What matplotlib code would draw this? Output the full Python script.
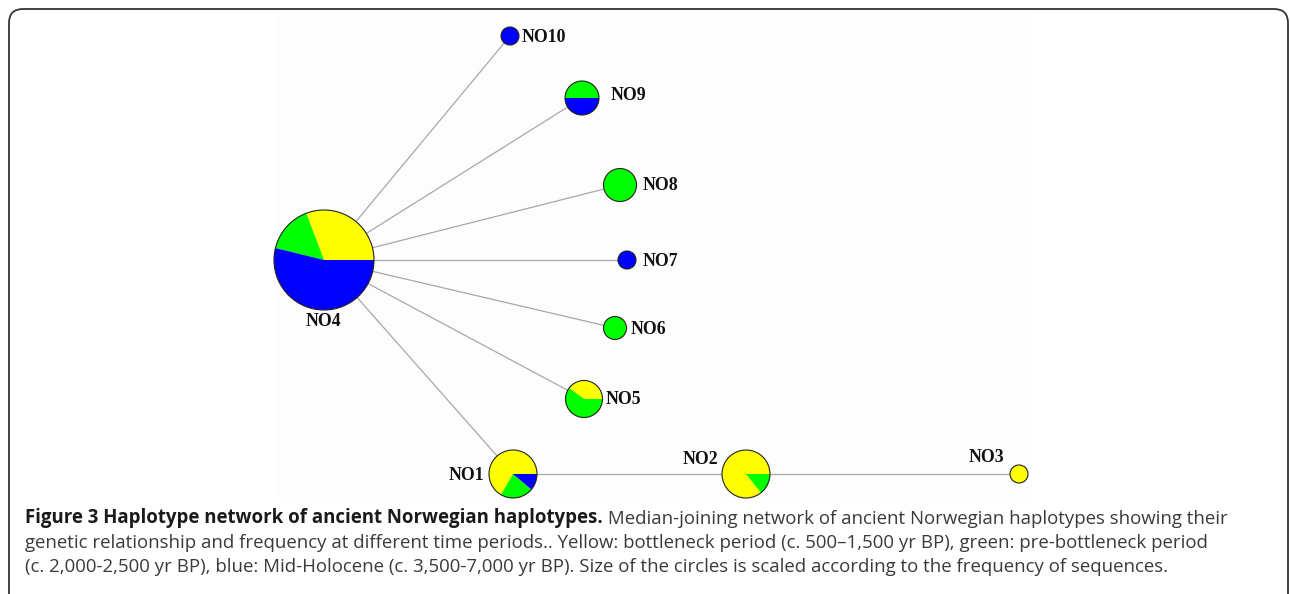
import matplotlib.pyplot as plt
from matplotlib.patches import Circle, FancyBboxPatch, Rectangle

# haplotype nodes: sequence counts per period (yellow, green, blue)
names = ['NO1', 'NO2', 'NO3', 'NO4', 'NO5', 'NO6', 'NO7', 'NO8', 'NO9', 'NO10']
yellow = [6, 6, 1, 4, 2, 0, 0, 0, 0, 0]
green = [2, 1, 0, 2, 3, 1, 0, 1, 1, 0]
blue = [1, 0, 0, 7, 0, 0, 1, 0, 1, 1]
links = [('NO4', 'NO10'), ('NO4', 'NO9'), ('NO4', 'NO8'), ('NO4', 'NO7'),
         ('NO4', 'NO6'), ('NO4', 'NO5'), ('NO4', 'NO1'),
         ('NO1', 'NO2'), ('NO2', 'NO3')]

# layout (pixels from top-left)
pos = {'NO1': (513, 474), 'NO2': (746, 474), 'NO3': (1019, 474),
       'NO4': (324, 260), 'NO5': (584, 399), 'NO6': (615, 328),
       'NO7': (627, 260), 'NO8': (620, 185), 'NO9': (582, 98),
       'NO10': (510, 36)}
radius = {'NO1': 24, 'NO2': 24, 'NO3': 9, 'NO4': 50, 'NO5': 18.5,
          'NO6': 11.5, 'NO7': 9, 'NO8': 16.5, 'NO9': 17, 'NO10': 9}
label_pos = {'NO1': (466, 475, 'center'), 'NO2': (700, 459, 'center'),
             'NO3': (986, 458, 'center'), 'NO4': (323, 322, 'center'),
             'NO5': (606, 400, 'left'), 'NO6': (631, 329, 'left'),
             'NO7': (643, 261, 'left'), 'NO8': (643, 186, 'left'),
             'NO9': (611, 95, 'left'), 'NO10': (522, 37, 'left')}
colors = ['#ffff00', '#00ff00', '#0000ff']

W, H = 1290, 594
fig = plt.figure(figsize=(W / 100, H / 100), dpi=100)
ax = fig.add_axes([0, 0, 1, 1])

ax.add_patch(Rectangle((275, 14), 757, 484, facecolor='#fefdfd',
                       edgecolor='none', zorder=0))

for a, b in links:
    (x0, y0), (x1, y1) = pos[a], pos[b]
    ax.plot([x0, x1], [y0, y1], color='#a8a8a8', lw=0.9, zorder=1)

for i, n in enumerate(names):
    vals = [yellow[i], green[i], blue[i]]
    keep = [(v, c) for v, c in zip(vals, colors) if v > 0]
    ax.pie([v for v, c in keep], colors=[c for v, c in keep],
           center=pos[n], radius=radius[n], startangle=0,
           counterclock=False, frame=True,
           wedgeprops=dict(linewidth=0, zorder=3))
    ax.add_patch(Circle(pos[n], radius[n], facecolor='none',
                        edgecolor='#222222', lw=0.8, zorder=4))
    lx, ly, ha = label_pos[n]
    ax.text(lx, ly, n, ha=ha, va='center', fontsize=12.8,
            family='Liberation Serif', fontweight='bold', color='#111111')

# rounded frame (bottom edge falls outside the image)
ax.add_patch(FancyBboxPatch((9, 9), 1279, 700,
                            boxstyle='round,pad=0,rounding_size=14',
                            facecolor='none', edgecolor='#333333', lw=1.3,
                            zorder=5))

fs = 13.4
cap_kw = dict(fontsize=fs, family='Open Sans', color='#3a3a3a')
t1 = ax.text(25, 518, 'Figure 3 Haplotype network of ancient Norwegian haplotypes.',
             ha='left', va='center', fontweight='bold', fontsize=fs,
             family='Open Sans', color='#1a1a1a')
ax.annotate(' Median-joining network of ancient Norwegian haplotypes showing their',
            xy=(1, 0), xycoords=t1, ha='left', va='bottom', **cap_kw)
ax.text(25, 543, 'genetic relationship and frequency at different time periods.. '
        'Yellow: bottleneck period (c. 500\u20131,500 yr BP), green: pre-bottleneck period',
        ha='left', va='center', **cap_kw)
ax.text(25, 567, '(c. 2,000-2,500 yr BP), blue: Mid-Holocene (c. 3,500-7,000 yr BP). '
        'Size of the circles is scaled according to the frequency of sequences.',
        ha='left', va='center', **cap_kw)

ax.set_xlim(0, W)
ax.set_ylim(H, 0)
ax.set_aspect('equal')
ax.axis('off')
fig.savefig('out.png', dpi=100)
